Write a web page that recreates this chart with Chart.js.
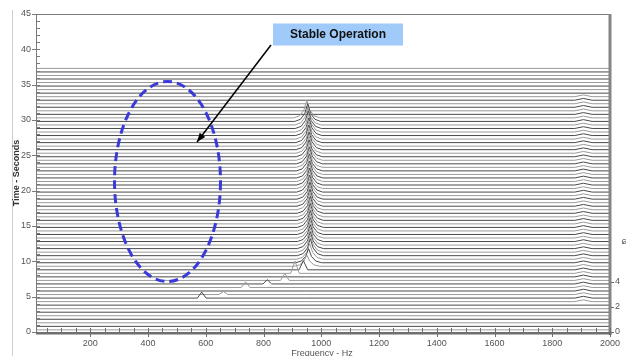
<!DOCTYPE html>
<html><head><meta charset="utf-8">
<script src="https://cdn.jsdelivr.net/npm/chart.js@4.4.1/dist/chart.umd.min.js"></script>
<style>html,body{margin:0;padding:0;background:#fff;overflow:hidden}#wrap{position:relative;width:634px;height:356px}</style>
</head><body><div id="wrap"><canvas id="c" width="634" height="356"></canvas></div>
<script>
// Baseline time (s) of each spectrum trace in the waterfall
const traceTimes = [0.3,0.8,1.3,1.8,2.3,2.8,3.3,3.8,4.3,4.8,5.3,5.8,6.3,6.8,7.3,7.8,8.3,8.8,9.3,9.8,
  10.3,10.8,11.3,11.8,12.3,12.8,13.3,13.8,14.3,14.8,15.3,15.8,16.3,16.8,17.3,17.8,18.3,18.8,19.3,19.8,
  20.3,20.8,21.3,21.8,22.3,22.8,23.3,23.8,24.3,24.8,25.3,25.8,26.3,26.8,27.3,27.8,28.3,28.8,29.3,29.8,
  30.3,30.8,31.3,31.8,32.3,32.8,33.3,33.8,34.3,34.8,35.3,35.8,36.3,36.8,37.3];

// Start-up sweep: narrow peaks moving up in frequency
const sweepTimes = [4.8,5.3,6.3,6.8,7.3,8.3,8.8];
const sweepHz    = [586,661,738,813,874,909,938];
const sweepAmp   = [0.85,0.45,0.8,0.6,1.0,1.75,1.3];

// Steady ridge near 960 Hz
const ridgeTimes = [9.3,9.8,10.3,10.8,11.3,11.8,12.3,12.8,13.3,13.8,14.3,14.8,15.3,15.8,16.3,16.8,17.3,17.8,18.3,18.8,
  19.3,19.8,20.3,20.8,21.3,21.8,22.3,22.8,23.3,23.8,24.3,24.8,25.3,25.8,26.3,26.8,27.3,27.8,28.3,28.8,29.3,29.8,30.3];
const ridgeHz = [950,956,960,962,962,962,962,962,962,962,962,962,962,962,962,962,961,961,961,961,
  961,960,960,960,960,960,960,959,959,959,959,958,958,958,958,957,957,957,956,955,954,953,950];
const ridgeAmp = [1.6,2.0,2.2,2.4,2.4,2.4,2.4,2.4,2.4,2.4,2.4,2.4,2.4,2.4,2.4,2.4,2.4,2.4,2.4,2.4,
  2.4,2.4,2.4,2.4,2.4,2.4,2.4,2.4,2.4,2.4,2.4,2.4,2.4,2.5,2.5,2.5,2.5,2.5,2.5,2.5,2.5,2.5,2.5];

// Small harmonic near 1908 Hz
const sideHz = 1908, sideFrom = 4.3, sideTo = 33.3, sideAmp = 0.25;

// Peak shapes (offset Hz, fraction of amplitude)
const wideShapeHz = [-45,-25,-10,0,10,25,45];
const wideShapeFr = [0,0.12,0.45,1,0.45,0.12,0];
const narrowShapeHz = [-15,0,15];
const narrowShapeFr = [0,1,0];
const sideShapeHz = [-30,0,30];
const sideShapeFr = [0,1,0];

const xTickLabels = [200,400,600,800,1000,1200,1400,1600,1800,2000];
const yTickLabels = [0,5,10,15,20,25,30,35,40,45];
const rightTicks = [0,2,4];

const X_MIN = 12, X_MAX = 2000;

function buildTrace(t){
  const peaks = [];
  const si = sweepTimes.indexOf(t);
  if (si >= 0) peaks.push({hz: sweepHz[si], amp: sweepAmp[si], sh: narrowShapeHz, fr: narrowShapeFr});
  const ri = ridgeTimes.indexOf(t);
  if (ri >= 0) peaks.push({hz: ridgeHz[ri], amp: ridgeAmp[ri], sh: wideShapeHz, fr: wideShapeFr});
  if (t >= sideFrom && t <= sideTo) peaks.push({hz: sideHz, amp: sideAmp, sh: sideShapeHz, fr: sideShapeFr});
  peaks.sort((a,b)=>a.hz-b.hz);
  const pts = [{x: X_MIN, y: t}];
  peaks.forEach(p => p.sh.forEach((o,k) => pts.push({x: p.hz + o, y: t + p.amp * p.fr[k]})));
  pts.push({x: X_MAX, y: t});
  return pts;
}

const datasets = traceTimes.map((t,i) => ({
  data: buildTrace(t),
  borderColor: i % 2 ? '#4a4a4a' : '#9a9a9a',
  borderWidth: 1,
  pointRadius: 0,
  tension: 0,
  fill: false,
  yAxisID: 'y'
}));

const FONT = "'Liberation Sans', Arial, sans-serif";

const decor = {
  id: 'decor',
  afterDraw(chart){
    const {ctx, chartArea: a, scales:{x, y}} = chart;
    ctx.save();
    ctx.strokeStyle = '#cfcfcf'; ctx.lineWidth = 1;
    ctx.beginPath(); ctx.moveTo(12.5, 10); ctx.lineTo(12.5, 356); ctx.stroke();
    ctx.strokeStyle = '#7a7a7a';
    ctx.beginPath(); ctx.moveTo(a.left, a.top + 0.5); ctx.lineTo(a.right, a.top + 0.5); ctx.stroke();
    ctx.beginPath(); ctx.moveTo(a.left + 0.5, a.top); ctx.lineTo(a.left + 0.5, a.bottom); ctx.stroke();
    for (let v = 0; v <= 45; v++) {
      const py = Math.round(y.getPixelForValue(v)) + 0.5;
      ctx.beginPath(); ctx.moveTo(v % 5 ? a.left : a.left - 4, py); ctx.lineTo(a.left + 4, py); ctx.stroke();
    }
    ctx.fillStyle = '#858585';
    ctx.fillRect(a.right - 1.5, a.top, 3, a.bottom - a.top + 3);
    ctx.fillStyle = '#6e6e6e';
    ctx.fillRect(a.left, a.bottom, a.right - a.left + 1.5, 2.5);
    ctx.strokeStyle = '#6e6e6e';
    for (let hz = 50; hz <= 2000; hz += 50) {
      const px = Math.round(x.getPixelForValue(hz)) + 0.5;
      ctx.beginPath(); ctx.moveTo(px, a.bottom - 4); ctx.lineTo(px, hz % 200 ? a.bottom : a.bottom + 5); ctx.stroke();
    }
    ctx.fillStyle = '#333';
    ctx.font = 'bold 9px ' + FONT;
    ctx.textAlign = 'center'; ctx.textBaseline = 'middle';
    ctx.save(); ctx.translate(17, 173); ctx.rotate(-Math.PI/2); ctx.fillText('Time - Seconds', 0, 0); ctx.restore();
    ctx.font = '9px ' + FONT; ctx.fillStyle = '#555';
    ctx.textBaseline = 'top';
    ctx.fillText('Frequency - Hz', 322, 349);
    ctx.textBaseline = 'middle';
    ctx.fillText('ɕ', 624, 242);
    ctx.strokeStyle = '#3a3ad8'; ctx.lineWidth = 3; ctx.setLineDash([9,5]);
    ctx.beginPath(); ctx.ellipse(167.5, 181.5, 53, 100, 0, 0, Math.PI*2); ctx.stroke();
    ctx.setLineDash([]);
    const x0 = 271, y0 = 45, x1 = 197, y1 = 142;
    ctx.strokeStyle = '#000'; ctx.lineWidth = 1.5;
    ctx.beginPath(); ctx.moveTo(x0, y0); ctx.lineTo(x1, y1); ctx.stroke();
    const ang = Math.atan2(y1 - y0, x1 - x0);
    ctx.fillStyle = '#000';
    ctx.beginPath(); ctx.moveTo(x1, y1);
    ctx.lineTo(x1 - 9*Math.cos(ang) + 3.5*Math.sin(ang), y1 - 9*Math.sin(ang) - 3.5*Math.cos(ang));
    ctx.lineTo(x1 - 9*Math.cos(ang) - 3.5*Math.sin(ang), y1 - 9*Math.sin(ang) + 3.5*Math.cos(ang));
    ctx.closePath(); ctx.fill();
    ctx.fillStyle = '#9fcaf9';
    ctx.fillRect(273, 23.5, 130, 22);
    ctx.fillStyle = '#111';
    ctx.font = 'bold 12px ' + FONT; ctx.textAlign = 'center'; ctx.textBaseline = 'middle';
    ctx.fillText('Stable Operation', 338, 35);
    ctx.restore();
  }
};

new Chart(document.getElementById('c'), {
  type: 'line',
  data: { datasets },
  options: {
    responsive: false,
    animation: false,
    events: [],
    layout: { padding: { top: 14, left: 0, right: 0, bottom: 0 } },
    plugins: { legend: { display: false }, tooltip: { enabled: false } },
    scales: {
      x: {
        type: 'linear', min: X_MIN, max: X_MAX,
        grid: { display: false, drawTicks: false }, border: { display: false },
        afterBuildTicks: s => { s.ticks = xTickLabels.map(v => ({value: v})); },
        ticks: { padding: 6, maxRotation: 0, autoSkip: false, color: '#555', font: { family: FONT, size: 9 }, callback: v => String(v) },
        afterFit: s => { s.height = 24; }
      },
      y: {
        type: 'linear', position: 'left', min: 0, max: 45,
        grid: { display: false, drawTicks: false }, border: { display: false },
        afterBuildTicks: s => { s.ticks = yTickLabels.map(v => ({value: v})); },
        ticks: { padding: 5, color: '#555', font: { family: FONT, size: 9 }, callback: v => String(v) },
        afterFit: s => { s.width = 36; }
      },
      y2: {
        type: 'linear', position: 'right', min: 0, max: 25.44,
        grid: { display: true, drawOnChartArea: false, drawTicks: true, tickLength: 4, color: '#666' },
        border: { display: false },
        afterBuildTicks: s => { s.ticks = rightTicks.map(v => ({value: v})); },
        ticks: { padding: 1, color: '#555', font: { family: FONT, size: 9 }, callback: v => String(v) },
        afterFit: s => { s.width = 24; }
      }
    }
  },
  plugins: [decor]
});
</script>
</body></html>
